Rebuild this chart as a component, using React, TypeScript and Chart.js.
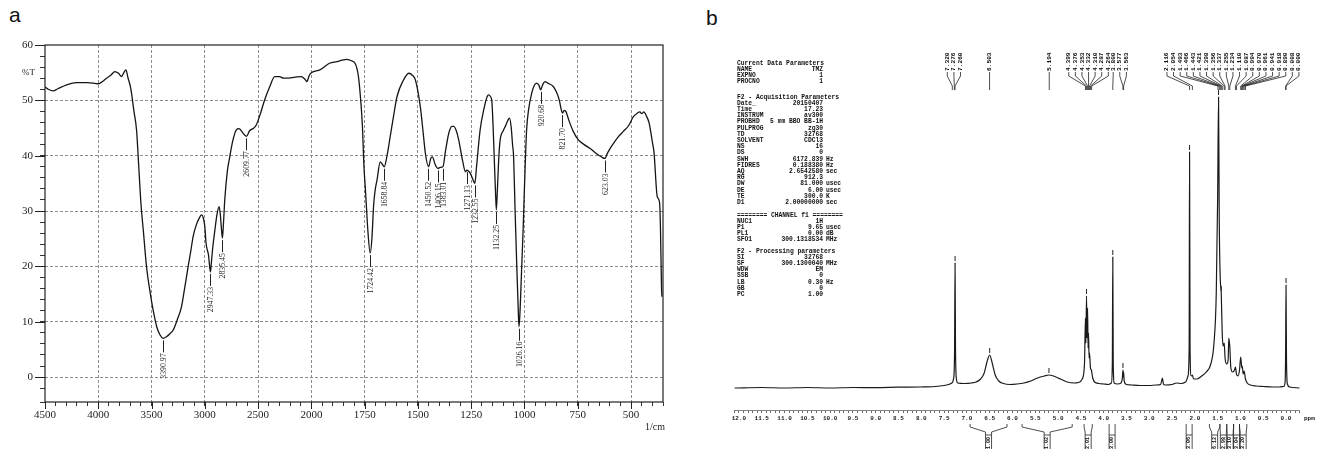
import React, { useEffect, useRef } from "react";
import { Chart, registerables } from "chart.js";

Chart.register(...registerables);

// ================= a: FT-IR spectrum =================
const irWavenumber = [
  4500, 4470, 4422, 4380, 4297, 4203, 4100, 4000, 3960, 3922,
  3880, 3844, 3810, 3781, 3760, 3741, 3720, 3700, 3688, 3665,
  3641, 3620, 3600, 3575, 3547, 3515, 3485, 3450, 3420, 3391,
  3360, 3330, 3297, 3260, 3219, 3190, 3157, 3130, 3110, 3080,
  3050, 3031, 3015, 3000, 2990, 2980, 2965, 2955, 2947, 2938,
  2925, 2906, 2885, 2866, 2855, 2845, 2835, 2825, 2813, 2790,
  2766, 2740, 2703, 2680, 2650, 2630, 2610, 2580, 2540, 2516,
  2480, 2438, 2390, 2344, 2300, 2260, 2234, 2150, 2094, 2060,
  2042, 2020, 2000, 1960, 1915, 1880, 1850, 1836, 1815, 1795,
  1780, 1770, 1760, 1754, 1745, 1735, 1724, 1716, 1708, 1700,
  1692, 1677, 1668, 1658, 1645, 1630, 1615, 1598, 1570, 1543,
  1525, 1512, 1489, 1475, 1465, 1450, 1440, 1432, 1420, 1406,
  1395, 1383, 1370, 1355, 1340, 1332, 1320, 1309, 1290, 1277,
  1271, 1262, 1254, 1240, 1233, 1225, 1208, 1190, 1175, 1168,
  1160, 1153, 1147, 1141, 1136, 1132, 1127, 1120, 1114, 1100,
  1090, 1075, 1070, 1062, 1056, 1051, 1044, 1036, 1030, 1026,
  1022, 1013, 1007, 1002, 996, 990, 980, 966, 955, 943,
  932, 924, 915, 904, 890, 865, 850, 837, 828, 821,
  814, 806, 790, 770, 748, 720, 692, 660, 640, 623,
  610, 595, 583, 560, 536, 510, 490, 470, 458, 450,
  440, 427, 415, 400, 392, 377, 366, 362, 357, 355,
];
const irTransmittance = [
  52.4, 52.0, 51.7, 52.1, 52.8, 53.2, 53.2, 53.0, 53.4, 54.0,
  54.6, 55.2, 54.9, 54.3, 55.0, 55.5, 54.0, 52.6, 51.3, 48.0,
  44.7, 38.0, 31.5, 26.0, 19.9, 15.5, 12.1, 9.0, 7.6, 7.0,
  7.3, 7.8, 8.5, 10.3, 12.7, 16.0, 19.9, 23.0, 25.4, 27.5,
  28.8, 29.3, 28.8, 27.2, 24.5, 23.2, 22.0, 20.0, 19.0, 20.8,
  23.5, 26.5, 29.5, 30.8, 29.5, 27.0, 25.1, 27.8, 32.0, 37.0,
  39.8, 42.5, 44.7, 44.9, 44.3, 43.8, 43.5, 44.5, 45.0, 45.6,
  47.5, 50.1, 52.5, 54.3, 54.3, 54.0, 54.0, 54.2, 54.3, 53.8,
  53.4, 54.5, 55.0, 55.5, 56.7, 57.0, 57.3, 57.4, 57.2, 56.7,
  54.5, 50.7, 45.0, 38.6, 33.0, 26.5, 22.4, 25.0, 31.0, 34.0,
  35.6, 38.9, 38.5, 38.0, 40.0, 43.5, 47.0, 50.7, 53.5, 54.9,
  54.5, 53.7, 48.9, 44.0, 40.4, 38.0, 39.5, 39.8, 38.5, 37.7,
  37.9, 38.0, 41.0, 44.1, 45.3, 45.3, 44.5, 42.9, 39.0, 37.1,
  37.4, 37.2, 36.8, 35.5, 35.0, 38.0, 44.7, 48.5, 50.7, 51.0,
  50.7, 49.8, 45.0, 38.6, 33.5, 30.2, 34.0, 40.0, 42.9, 44.5,
  45.3, 46.6, 46.8, 45.0, 42.0, 39.8, 30.0, 19.9, 13.0, 9.1,
  11.0, 19.9, 26.0, 32.0, 39.0, 44.7, 48.5, 51.3, 52.6, 53.1,
  52.7, 51.9, 52.8, 53.4, 53.1, 52.5, 51.5, 50.1, 48.4, 47.7,
  48.2, 48.0, 46.2, 44.3, 42.9, 42.0, 41.3, 40.3, 39.8, 39.5,
  40.5, 41.5, 42.2, 43.4, 44.4, 45.5, 47.0, 47.7, 47.9, 47.6,
  47.9, 47.1, 45.9, 42.5, 40.5, 32.6, 31.5, 27.0, 16.3, 14.5,
];
const irPeakWavenumber = [3390.97, 2947.33, 2835.45, 2609.77, 1724.42, 1658.84, 1450.52, 1406.15, 1383.01, 1271.13, 1232.55, 1132.25, 1026.16, 920.68, 821.7, 623.03];
const irPeakTransmittance = [7.0, 19.0, 25.1, 43.5, 22.4, 38.0, 38.0, 37.7, 38.0, 37.4, 35.0, 30.2, 9.1, 51.9, 47.7, 39.5];
const irPeakLabels = ["3390.97", "2947.33", "2835.45", "2609.77", "1724.42", "1658.84", "1450.52", "1406.15", "1383.01", "1271.13", "1232.55", "1132.25", "1026.16", "920.68", "821.70", "623.03"];
const irXTickLabels = ["4500", "4000", "3500", "3000", "2500", "2000", "1750", "1500", "1250", "1000", "750", "500"];
const irYTickLabels = ["0", "10", "20", "30", "40", "50", "60"];

// wavenumber axis is compressed x2 above 2000 1/cm (instrument chart format)
const toAxis = (w: number) => (w >= 2000 ? 4500 - w : 2500 + (2000 - w) * 2);

// ================= b: 1H NMR spectrum =================
const nmrPpm = [
  12.1, 11.5, 11.0, 10.5, 10.0, 9.5, 9.0, 8.5, 8.0, 7.7,
  7.5, 7.4, 7.33, 7.29, 7.27, 7.26, 7.25, 7.23, 7.2, 7.05,
  6.9, 6.8, 6.7, 6.62, 6.56, 6.5, 6.44, 6.38, 6.3, 6.2,
  6.05, 5.9, 5.75, 5.6, 5.45, 5.3, 5.2, 5.1, 4.95, 4.8,
  4.65, 4.55, 4.47, 4.42, 4.4, 4.39, 4.376, 4.365, 4.353, 4.342,
  4.332, 4.32, 4.31, 4.29, 4.27, 4.24, 4.2, 4.1, 4.0, 3.9,
  3.83, 3.81, 3.8, 3.79, 3.77, 3.7, 3.62, 3.59, 3.577, 3.57,
  3.563, 3.55, 3.5, 3.4, 3.2, 3.0, 2.85, 2.75, 2.71, 2.69,
  2.65, 2.5, 2.4, 2.3, 2.2, 2.15, 2.125, 2.116, 2.105, 2.08,
  2.054, 2.03, 1.95, 1.85, 1.75, 1.65, 1.58, 1.53, 1.5, 1.48,
  1.465, 1.443, 1.421, 1.4, 1.38, 1.356, 1.337, 1.3, 1.27, 1.255,
  1.234, 1.21, 1.17, 1.13, 1.11, 1.087, 1.05, 1.02, 0.994, 0.97,
  0.96, 0.94, 0.918, 0.89, 0.85, 0.78, 0.65, 0.5, 0.3, 0.15,
  0.05, 0.02, 0.008, 0.0, -0.01, -0.03, -0.08, -0.3,
];
const nmrIntensity = [
  0, 0.5, 0, 0.5, 0, 0.5, 0.3, 0.8, 1, 1.5,
  2.5, 3.5, 5, 10, 40, 125, 40, 9, 5, 4.5,
  5, 6, 9, 15, 26, 33, 24, 13, 7, 4.5,
  3.5, 4, 5, 7, 10, 12, 13, 12, 9, 6,
  5, 5.5, 9, 25, 70, 45, 92, 50, 80, 40,
  55, 30, 35, 20, 18, 10, 6, 4.5, 4, 3.5,
  5, 25, 131, 25, 5, 4, 5, 10, 18, 11,
  16, 7, 3.5, 3, 2.5, 2.5, 3, 3.5, 10, 4,
  3, 3.5, 5, 4.5, 6, 12, 40, 236, 40, 12,
  13, 9, 9, 12, 16, 24, 45, 95, 190, 291,
  170, 110, 95, 55, 42, 45, 30, 24, 28, 50,
  42, 20, 16, 18, 21, 14, 12, 18, 31, 20,
  22, 14, 17, 9, 5, 3, 2, 1.5, 1, 1,
  1.5, 6, 40, 103, 30, 4, 1, 0,
];
const nmrPeakLabels = [
  "7.320", "7.276", "7.260", "6.503", "5.194",
  "4.399", "4.376", "4.353", "4.332", "4.310", "4.287", "4.264",
  "3.800", "3.577", "3.563",
  "2.116", "2.054", "1.493", "1.466", "1.443", "1.421", "1.398", "1.356", "1.337", "1.255",
  "1.234", "1.110", "1.087", "0.994", "0.970", "0.961", "0.941", "0.918", "0.890", "0.008", "0.000",
];
const nmrLabelGroupSizes = [3, 1, 1, 7, 3, 21];
const nmrMarkerPpm = [7.26, 6.5, 5.2, 4.376, 3.8, 3.577, 2.116, 1.48, 1.421, 0.0];
const nmrMarkerHeight = [125, 33, 13, 92, 131, 18, 236, 291, 95, 103];
const nmrIntegralFrom = [6.93, 5.79, 4.43, 3.88, 2.19, 1.68, 1.45, 1.3, 1.15, 1.02];
const nmrIntegralTo = [6.12, 4.69, 4.25, 3.75, 2.06, 1.45, 1.3, 1.15, 1.02, 0.86];
const nmrIntegralValues = ["1.00", "1.02", "2.01", "3.00", "3.06", "6.12", "2.98", "3.10", "3.04", "3.20"];

const nmrParamHeaders = ["Current Data Parameters", "F2 - Acquisition Parameters", "======== CHANNEL f1 ========", "F2 - Processing parameters"];
const nmrParamNames = [
  ["NAME", "EXPNO", "PROCNO"],
  ["Date_", "Time", "INSTRUM", "PROBHD", "PULPROG", "TD", "SOLVENT", "NS", "DS", "SWH", "FIDRES", "AQ", "RG", "DW", "DE", "TE", "D1"],
  ["NUC1", "P1", "PL1", "SFO1"],
  ["SI", "SF", "WDW", "SSB", "LB", "GB", "PC"],
];
const nmrParamValues = [
  ["TMZ", "1", "1"],
  ["20150407", "17.23", "av300", "5 mm BBO BB-1H", "zg30", "32768", "CDCl3", "16", "0", "6172.839", "0.188380", "2.6542580", "912.3", "81.000", "6.00", "300.0", "2.00000000"],
  ["1H", "9.65", "0.00", "300.1318534"],
  ["32768", "300.1300040", "EM", "0", "0.30", "0", "1.00"],
];
const nmrParamUnits = [
  ["", "", ""],
  ["", "", "", "", "", "", "", "", "", "Hz", "Hz", "sec", "", "usec", "usec", "K", "sec"],
  ["", "usec", "dB", "MHz"],
  ["", "MHz", "", "", "Hz", "", ""],
];

const SERIF = "'Liberation Serif', 'Times New Roman', serif";
const MONO = "'Liberation Mono', 'DejaVu Sans Mono', monospace";

const irDecor = {
  id: "irDecor",
  afterDraw(chart: any) {
    const { ctx, chartArea: a, scales } = chart;
    const xs = scales.x;
    const ys = scales.y;
    ctx.save();
    ctx.strokeStyle = "#222";
    ctx.lineWidth = 1.2;
    ctx.strokeRect(a.left, a.top, a.right - a.left, a.bottom - a.top);
    ctx.lineWidth = 1;
    ctx.beginPath();
    for (let v = 0; v <= 60; v += 10) {
      const py = Math.round(ys.getPixelForValue(v)) + 0.5;
      ctx.moveTo(a.left - 10, py);
      ctx.lineTo(a.left, py);
    }
    for (let t = 0; t <= 5500; t += 500) {
      const px = Math.round(xs.getPixelForValue(t)) + 0.5;
      ctx.moveTo(px, a.bottom);
      ctx.lineTo(px, a.bottom + 7);
    }
    ctx.stroke();
    ctx.fillStyle = "#222";
    ctx.font = `9px ${SERIF}`;
    ctx.textAlign = "right";
    ctx.textBaseline = "middle";
    ctx.fillText("%T", a.left - 10, ys.getPixelForValue(55));
    ctx.textAlign = "center";
    ctx.font = `10px ${SERIF}`;
    ctx.fillText("1/cm", 655, 427);
    ctx.font = `7.8px ${SERIF}`;
    irPeakWavenumber.forEach((w, i) => {
      const px = Math.round(xs.getPixelForValue(toAxis(w))) + 0.5;
      const py = ys.getPixelForValue(irPeakTransmittance[i]);
      ctx.beginPath();
      ctx.moveTo(px, py + 2);
      ctx.lineTo(px, py + 14);
      ctx.stroke();
      ctx.save();
      ctx.translate(px, py + 15);
      ctx.rotate(-Math.PI / 2);
      ctx.textAlign = "right";
      ctx.textBaseline = "middle";
      ctx.fillText(irPeakLabels[i], 0, 0);
      ctx.restore();
    });
    ctx.restore();
  },
};

const NMR_OX = 680;

const nmrDecor = {
  id: "nmrDecor",
  afterDraw(chart: any) {
    const { ctx, scales } = chart;
    const x = scales.x;
    const y = scales.y;
    const ox = NMR_OX;
    ctx.save();
    ctx.fillStyle = "#111";
    ctx.strokeStyle = "#222";
    // acquisition parameter block
    ctx.font = `bold 6.3px ${MONO}`;
    ctx.textBaseline = "middle";
    const headerY = [63, 97, 215, 251];
    nmrParamHeaders.forEach((h, s) => {
      ctx.textAlign = "left";
      ctx.fillText(h, 737 - ox, headerY[s]);
      nmrParamNames[s].forEach((n, k) => {
        const ly = headerY[s] + (k + 1) * 6.2;
        ctx.textAlign = "left";
        ctx.fillText(n, 737 - ox, ly);
        ctx.textAlign = "right";
        ctx.fillText(nmrParamValues[s][k], 823 - ox, ly);
        if (nmrParamUnits[s][k]) {
          ctx.textAlign = "left";
          ctx.fillText(nmrParamUnits[s][k], 826 - ox, ly);
        }
      });
    });
    // peak labels with leaders
    ctx.font = `bold 6.2px ${MONO}`;
    ctx.lineWidth = 0.8;
    let start = 0;
    nmrLabelGroupSizes.forEach((n) => {
      const tx = nmrPeakLabels.slice(start, start + n).map((l) => x.getPixelForValue(parseFloat(l)));
      const c = tx.reduce((p, q) => p + q, 0) / n;
      tx.forEach((t, k) => {
        const sx = c + (k - (n - 1) / 2) * 6.6;
        ctx.beginPath();
        ctx.moveTo(sx, 72);
        ctx.lineTo(sx, 76);
        ctx.lineTo(t, 86);
        ctx.lineTo(t, 90);
        ctx.stroke();
        ctx.save();
        ctx.translate(sx, 71);
        ctx.rotate(-Math.PI / 2);
        ctx.textAlign = "left";
        ctx.textBaseline = "middle";
        ctx.fillText(nmrPeakLabels[start + k], 0, 0);
        ctx.restore();
      });
      start += n;
    });
    // peak-pick markers
    ctx.lineWidth = 1;
    nmrMarkerPpm.forEach((p, i) => {
      const px = x.getPixelForValue(p);
      const py = y.getPixelForValue(nmrMarkerHeight[i]);
      ctx.beginPath();
      ctx.moveTo(px, py - 2);
      ctx.lineTo(px, py - 7);
      ctx.stroke();
    });
    // axis unit
    ctx.font = `bold 6px ${MONO}`;
    ctx.textAlign = "left";
    ctx.textBaseline = "middle";
    ctx.fillText("ppm", 1304 - ox, 418);
    // integrals
    ctx.lineWidth = 0.8;
    ctx.font = `bold 5px ${MONO}`;
    nmrIntegralFrom.forEach((p1, i) => {
      const x1 = x.getPixelForValue(p1);
      const x2 = x.getPixelForValue(nmrIntegralTo[i]);
      const xc = (x1 + x2) / 2;
      ctx.beginPath();
      ctx.moveTo(x1, 424);
      ctx.lineTo(x1, 427);
      ctx.lineTo(xc - 3, 432);
      ctx.lineTo(xc - 3, 449);
      ctx.moveTo(x2, 424);
      ctx.lineTo(x2, 427);
      ctx.lineTo(xc + 3, 432);
      ctx.lineTo(xc + 3, 449);
      ctx.moveTo(xc - 3, 435);
      ctx.lineTo(xc + 3, 435);
      ctx.stroke();
      ctx.save();
      ctx.translate(xc, 437);
      ctx.rotate(-Math.PI / 2);
      ctx.textAlign = "right";
      ctx.textBaseline = "middle";
      ctx.fillText(nmrIntegralValues[i], 0, 0);
      ctx.restore();
    });
    ctx.restore();
  },
};

export default function App() {
  const irRef = useRef<HTMLCanvasElement>(null);
  const nmrRef = useRef<HTMLCanvasElement>(null);

  useEffect(() => {
    const gridColor = (ctx: any, major: (v: number) => boolean) =>
      ctx.tick && major(ctx.tick.value) ? "#8c8c8c" : "rgba(0,0,0,0)";

    const ir = new Chart(irRef.current as HTMLCanvasElement, {
      type: "line",
      data: {
        datasets: [
          {
            data: irWavenumber.map((w, i) => ({ x: toAxis(w), y: irTransmittance[i] })),
            borderColor: "#151515",
            borderWidth: 1.3,
            pointRadius: 0,
            fill: false,
            cubicInterpolationMode: "monotone",
          },
        ],
      },
      options: {
        animation: false,
        responsive: false,
        devicePixelRatio: 1,
        events: [],
        layout: { padding: { left: 0, right: 17, top: 45, bottom: 0 } },
        plugins: { legend: { display: false }, tooltip: { enabled: false } },
        scales: {
          x: {
            type: "linear",
            min: 0,
            max: 5800,
            ticks: {
              stepSize: 100,
              autoSkip: false,
              maxRotation: 0,
              minRotation: 0,
              padding: 3,
              color: "#222",
              font: { family: SERIF, size: 11 },
              callback: (v: any) => (v % 500 === 0 && v <= 5500 ? irXTickLabels[v / 500] : ""),
            },
            grid: {
              color: (c: any) => gridColor(c, (v) => v % 500 === 0 && v > 0 && v < 5800),
              tickColor: "#333",
              tickLength: 4,
              lineWidth: 1,
            },
            border: { display: false, dash: [3, 2] },
            afterFit: (s: any) => {
              s.height = 47;
            },
          },
          y: {
            type: "linear",
            min: -4.5,
            max: 60,
            ticks: {
              stepSize: 2,
              autoSkip: false,
              padding: 7,
              color: "#222",
              font: { family: SERIF, size: 11 },
              callback: (v: any) => (v % 10 === 0 && v >= 0 ? irYTickLabels[v / 10] : ""),
            },
            grid: {
              color: (c: any) => gridColor(c, (v) => v % 10 === 0 && v >= 0 && v < 60),
              tickColor: "#333",
              tickLength: 5,
              lineWidth: 1,
            },
            border: { display: false, dash: [3, 2] },
            afterFit: (s: any) => {
              s.width = 45;
            },
          },
        },
      } as any,
      plugins: [irDecor],
    });

    const nmr = new Chart(nmrRef.current as HTMLCanvasElement, {
      type: "line",
      data: {
        datasets: [
          {
            data: nmrPpm.map((p, i) => ({ x: p, y: nmrIntensity[i] })),
            borderColor: "#1a1a1a",
            borderWidth: 1.2,
            pointRadius: 0,
            fill: false,
            cubicInterpolationMode: "monotone",
          },
        ],
      },
      options: {
        animation: false,
        responsive: false,
        devicePixelRatio: 1,
        events: [],
        layout: { padding: { left: 54.4, right: 17.3, top: 90, bottom: 0 } },
        plugins: { legend: { display: false }, tooltip: { enabled: false } },
        scales: {
          x: {
            type: "linear",
            reverse: true,
            min: -0.3,
            max: 12.1,
            ticks: {
              stepSize: 0.1,
              autoSkip: false,
              maxRotation: 0,
              minRotation: 0,
              padding: 2,
              color: "#222",
              font: { family: MONO, size: 6, weight: "bold" },
              callback: (v: any) => {
                const r = Math.round(v * 10) / 10;
                return Math.abs(r * 2 - Math.round(r * 2)) < 1e-6 && r >= 0 ? Math.abs(r).toFixed(1) : "";
              },
            },
            grid: { drawOnChartArea: false, tickLength: 3, tickColor: "#444", lineWidth: 0.8 },
            border: { display: true, color: "#666", width: 0.8 },
            afterFit: (s: any) => {
              s.height = 39;
            },
          },
          y: { display: false, min: -22, max: 298 },
        },
      } as any,
      plugins: [nmrDecor],
    });

    return () => {
      ir.destroy();
      nmr.destroy();
    };
  }, []);

  return (
    <div style={{ position: "fixed", left: 0, top: 0, width: 1317, height: 449, background: "#fff", overflow: "hidden" }}>
      <div style={{ position: "absolute", left: 9, top: 3, font: "21px 'Liberation Sans', Arial, sans-serif", color: "#111" }}>a</div>
      <div style={{ position: "absolute", left: 706, top: 6, font: "21px 'Liberation Sans', Arial, sans-serif", color: "#111" }}>b</div>
      <canvas ref={irRef} width={680} height={449} style={{ position: "absolute", left: 0, top: 0, width: 680, height: 449 }} />
      <canvas ref={nmrRef} width={637} height={449} style={{ position: "absolute", left: 680, top: 0, width: 637, height: 449 }} />
    </div>
  );
}
